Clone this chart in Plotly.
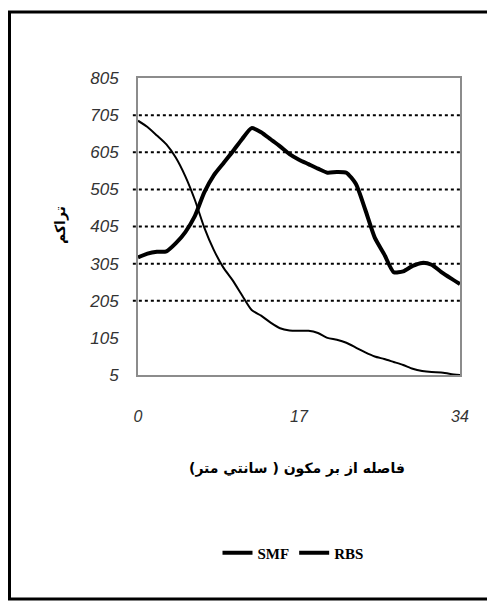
"""
plot.py — courbes SMF / RBS en fonction de la distance.
"""

import plotly.graph_objects as go

# Données
distance = list(range(0, 35))

smf = [690, 673, 650, 626, 590, 540, 477, 402, 342, 295,
       260, 219, 180, 165, 146, 131, 125, 124, 124, 118,
       105, 100, 92, 79, 66, 55, 48, 40, 32, 22,
       16, 13, 12, 8, 5]

rbs = [322, 332, 337, 338, 360, 390, 433, 497, 543, 575,
       607, 641, 670, 659, 640, 621, 600, 585, 573, 561,
       550, 552, 550, 520, 450, 375, 330, 282, 284, 299,
       307, 302, 283, 266, 250]

x_ticks = [0, 17, 34]
y_ticks = [5, 105, 205, 305, 405, 505, 605, 705, 805]
grid_levels = [205, 305, 405, 505, 605, 705]

x_title = "فاصله از بر مکون ( سانتي متر)"
y_title = "تراکم"

# la page ajoute une marge de 8 px autour de la figure
OFF = 8
W, H = 495 - OFF, 603 - OFF
L, R, T, B = 138 - OFF, 35, 78 - OFF, 228
PW, PH = W - L - R, H - T - B


def px_x(p):
    """Pixel écran -> coordonnée papier en x."""
    return (p - OFF - L) / PW


def px_y(p):
    """Pixel écran -> coordonnée papier en y."""
    return (H - B - (p - OFF)) / PH


fig = go.Figure()

# traces réelles (légende gérée séparément pour garder des traits épais)
fig.add_trace(go.Scatter(x=distance, y=smf, mode="lines", name="SMF",
                         line=dict(color="black", width=2, shape="spline", smoothing=0.6),
                         showlegend=False))
fig.add_trace(go.Scatter(x=distance, y=rbs, mode="lines", name="RBS",
                         line=dict(color="black", width=4, shape="spline", smoothing=0.6),
                         showlegend=False))
for name in ["SMF", "RBS"]:
    fig.add_trace(go.Scatter(x=[None], y=[None], mode="lines", name=name,
                             line=dict(color="black", width=4)))

shapes = []
for lvl in grid_levels:
    shapes.append(dict(type="line", xref="paper", yref="y", x0=-0.016, x1=1, y0=lvl, y1=lvl,
                       line=dict(color="black", width=2, dash="dot"), layer="below"))
# cadre extérieur
shapes.append(dict(type="rect", xref="paper", yref="paper",
                   x0=px_x(9.5), x1=px_x(530), y0=px_y(599), y1=px_y(12),
                   line=dict(color="black", width=3)))

fig.update_layout(
    width=W,
    height=H,
    margin=dict(l=L, r=R, t=T, b=B),
    paper_bgcolor="white",
    plot_bgcolor="white",
    shapes=shapes,
    showlegend=True,
    legend=dict(orientation="h", x=px_x(293), xanchor="center", y=px_y(553), yanchor="middle",
                font=dict(family="Liberation Serif", size=15, color="black", weight="bold"),
                itemwidth=30, traceorder="normal", bgcolor="rgba(0,0,0,0)"),
    annotations=[
        dict(text=x_title, xref="paper", yref="paper", x=px_x(297), y=px_y(468),
             showarrow=False, xanchor="center", yanchor="middle",
             font=dict(family="DejaVu Sans", size=14, color="black", weight="bold")),
        dict(text=y_title, xref="paper", yref="paper", x=px_x(60), y=px_y(225),
             showarrow=False, textangle=-90, xanchor="center", yanchor="middle",
             font=dict(family="DejaVu Sans", size=14, color="black", weight="bold")),
    ],
)

fig.update_xaxes(
    range=[0, 34],
    tickvals=x_ticks,
    showgrid=False,
    zeroline=False,
    showline=True,
    mirror=True,
    linecolor="#8c8c8c",
    linewidth=2,
    ticks="",
    ticklabelstandoff=26,
    tickfont=dict(family="Liberation Sans", size=16, color="#333", style="italic"),
)
fig.update_yaxes(
    range=[5, 805],
    tickvals=y_ticks,
    showgrid=False,
    zeroline=False,
    showline=True,
    mirror=True,
    linecolor="#8c8c8c",
    linewidth=2,
    ticks="",
    ticklabelstandoff=14,
    tickfont=dict(family="Liberation Sans", size=17, color="#333", style="italic"),
)

fig.write_html("out.html")
